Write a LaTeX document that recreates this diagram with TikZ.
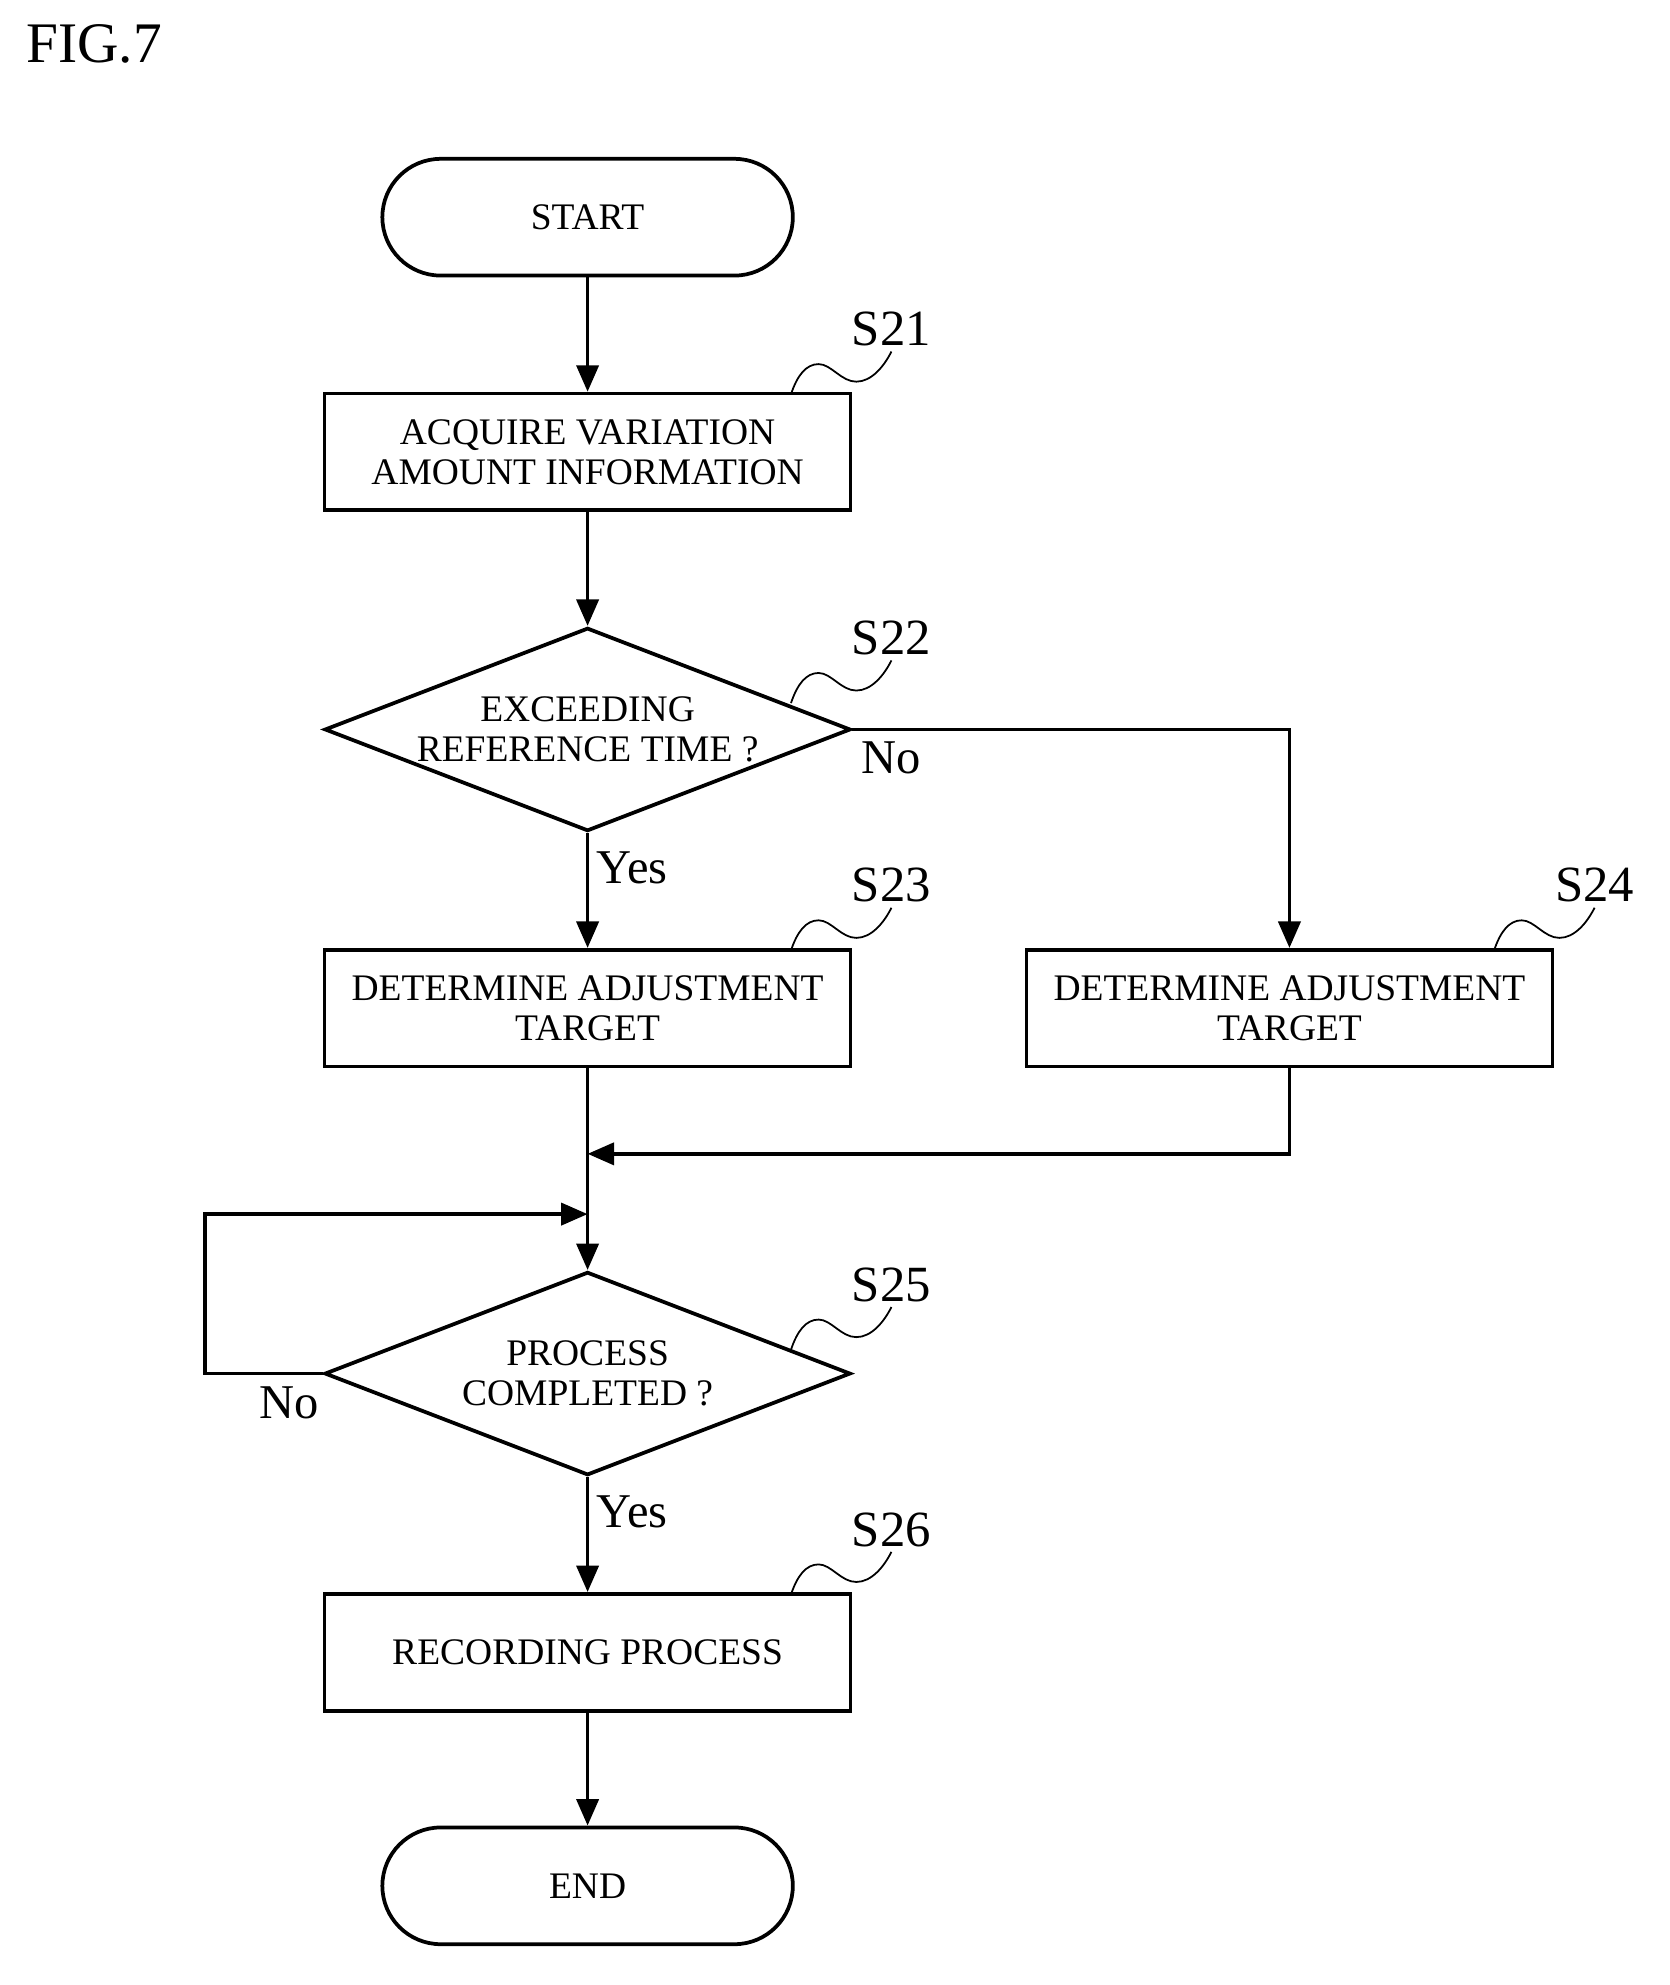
\documentclass[tikz,border=0pt]{standalone}
\usepackage{fontspec}
\setmainfont{Liberation Serif}
\usetikzlibrary{shapes.geometric,arrows.meta}

\tikzset{
  flow/.style={line width=1.7pt,-{Triangle[length=12pt,width=10pt]}},
  line/.style={line width=1.7pt},
  proc/.style={draw,line width=1.7pt,minimum width=8.38cm,minimum height=1.86cm,align=center,
    inner sep=0pt,font=\fontsize{17}{18}\selectfont},
  term/.style={draw,line width=1.7pt,rounded corners=0.93cm,minimum width=6.54cm,minimum height=1.86cm,
    font=\fontsize{17}{18}\selectfont},
  dec/.style={draw,line width=1.7pt,diamond,aspect=2.59,minimum width=8.38cm,minimum height=3.24cm,
    inner sep=0pt,align=center,font=\fontsize{17}{18}\selectfont},
  steplbl/.style={font=\fontsize{23}{24}\selectfont,anchor=south,inner sep=2pt},
  yn/.style={font=\fontsize{22}{24}\selectfont},
}
\newcommand{\squig}[3]{%
  \draw[line,line width=0.8pt,shift={(#1)}] (0,0) .. controls (5,-15) and (12,-24) .. (22,-24)
    .. controls (32,-24) and (40,-10) .. (52,-10) .. controls (64,-10) and (74,-22) .. (80,-34)
    node[steplbl] (#2) {#3};}

\begin{document}
\begin{tikzpicture}[x=0.02cm,y=-0.02cm]
\useasboundingbox (0,0) rectangle (1330,1581);
\node[font=\fontsize{26}{28}\selectfont] (fig) at (75,35) {FIG.7};

% main column
\node[term] (start) at (468,173) {START};
\node[proc] (s21) at (468,360) {ACQUIRE VARIATION\\AMOUNT INFORMATION};
\node[dec] (s22) at (468,581) {EXCEEDING\\REFERENCE TIME ?};
\node[proc] (s23) at (468,803) {DETERMINE ADJUSTMENT\\TARGET};
\node[proc] (s24) at (1027,803) {DETERMINE ADJUSTMENT\\TARGET};
\node[dec] (s25) at (468,1094) {PROCESS\\COMPLETED ?};
\node[proc] (s26) at (468,1316) {RECORDING PROCESS};
\node[term] (end) at (468,1502) {END};

% junctions
\coordinate (m1) at (468,919);
\coordinate (m2) at (1027,919);
\coordinate (l1) at (468,967);
\coordinate (l2) at (163,967);
\coordinate (l3) at (163,1094);
\coordinate (n1) at (1027,581);

\draw[flow] (start) -- (s21);
\draw[flow] (s21) -- (s22);
\draw[flow] (s22) -- node[yn,right,pos=0.3] {Yes} (s23);
\draw[flow] (s22.east) -- (n1) -- (s24);
\node[yn] (no1) at (710,604) {No};
\draw[line] (s23) -- (l1);
\draw[flow] (s24) -- (m2) -- (m1);
\draw[flow] (l1) -- (s25);
\draw[flow] (s25.west) -- (l3) -- (l2) -- (l1);
\node[yn] (no2) at (230,1117) {No};
\draw[flow] (s25) -- node[yn,right,pos=0.3] {Yes} (s26);
\draw[flow] (s26) -- (end);

% step labels
\squig{630,314}{t21}{S21}
\squig{630,560}{t22}{S22}
\squig{630,757}{t23}{S23}
\squig{1190,757}{t24}{S24}
\squig{630,1075}{t25}{S25}
\squig{630,1270}{t26}{S26}
\end{tikzpicture}
\end{document}
